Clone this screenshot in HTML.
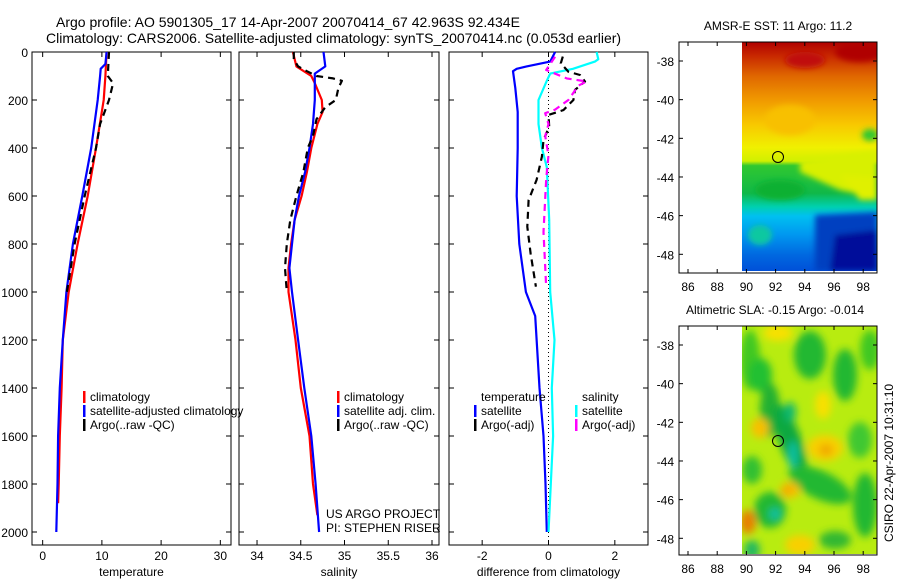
<!DOCTYPE html>
<html><head><meta charset="utf-8">
<style>
html,body{margin:0;padding:0;background:#fff;}
svg{display:block;font-family:"Liberation Sans",sans-serif;}
text{fill:#000;}
</style></head>
<body>
<svg id="fig" width="900" height="580" viewBox="0 0 900 580" xmlns="http://www.w3.org/2000/svg">
<defs>
<filter id="bl" x="-20%" y="-20%" width="140%" height="140%"><feGaussianBlur stdDeviation="4"/></filter>
<filter id="bl2" x="-20%" y="-20%" width="140%" height="140%"><feGaussianBlur stdDeviation="3"/></filter>
<clipPath id="c1"><rect x="742" y="42" width="135" height="229"/></clipPath>
<clipPath id="c2"><rect x="742" y="326" width="135" height="228"/></clipPath>
<linearGradient id="sstg" x1="0" y1="0" x2="0" y2="1">
<stop offset="0" stop-color="#b00000"/><stop offset="0.06" stop-color="#c82800"/>
<stop offset="0.15" stop-color="#e06800"/><stop offset="0.25" stop-color="#f09800"/>
<stop offset="0.36" stop-color="#f8c800"/><stop offset="0.46" stop-color="#f0f000"/>
<stop offset="0.52" stop-color="#d0f000"/><stop offset="0.54" stop-color="#30c830"/>
<stop offset="0.66" stop-color="#10b848"/><stop offset="0.72" stop-color="#00d0b0"/>
<stop offset="0.76" stop-color="#00c0f0"/><stop offset="0.84" stop-color="#0098f0"/>
<stop offset="0.93" stop-color="#0068e0"/><stop offset="1" stop-color="#0050d8"/>
</linearGradient>
</defs>
<g id="titles">
<text x="56" y="27" font-size="14">Argo profile: AO 5901305_17 14-Apr-2007 20070414_67 42.963S 92.434E</text>
<text x="46" y="43" font-size="14">Climatology: CARS2006. Satellite-adjusted climatology: synTS_20070414.nc (0.053d earlier)</text>
</g>
<g id="p1"></g>
<g id="p2"></g>
<g id="p3"></g>

<g>
<text x="778" y="30" font-size="12" text-anchor="middle">AMSR-E SST: 11 Argo: 11.2</text>
<g clip-path="url(#c1)">
<rect x="742" y="42" width="135" height="229" fill="url(#sstg)"/>
<g filter="url(#bl2)">
<polygon points="800,160 877,150 877,198 840,190 800,172" fill="#d8f000"/>
<polygon points="840,175 877,178 877,200 860,200" fill="#e0f000"/>
<ellipse cx="870" cy="135" rx="8" ry="6" fill="#30c830"/>
<polygon points="815,215 877,212 877,271 815,271" fill="#0040c0"/>
<polygon points="835,235 877,230 877,271 830,271" fill="#00109a"/>
<ellipse cx="760" cy="235" rx="12" ry="10" fill="#10c8a0"/>
<ellipse cx="805" cy="60" rx="20" ry="8" fill="#c01010"/>
<ellipse cx="860" cy="52" rx="25" ry="10" fill="#b00000"/>
<ellipse cx="790" cy="120" rx="25" ry="15" fill="#f8c000"/>
<ellipse cx="780" cy="190" rx="25" ry="10" fill="#10b030"/>
</g>
</g>
<rect x="679" y="42" width="198" height="231" fill="none" stroke="#000" stroke-width="1"/>
<g id="m1ticks"></g>
<circle cx="778" cy="157" r="5.5" fill="none" stroke="#000" stroke-width="1"/>
</g>

<g>
<text x="775" y="314" font-size="12" text-anchor="middle">Altimetric SLA: -0.15 Argo: -0.014</text>
<g clip-path="url(#c2)">
<rect x="742" y="326" width="135" height="228" fill="#b8ec10"/>
<g filter="url(#bl)">
<ellipse cx="750" cy="360" rx="10" ry="30" fill="#40c820"/>
<ellipse cx="810" cy="355" rx="16" ry="24" fill="#20b830"/>
<ellipse cx="845" cy="375" rx="12" ry="26" fill="#20b830"/>
<ellipse cx="870" cy="350" rx="10" ry="20" fill="#40c820"/>
<ellipse cx="760" cy="375" rx="12" ry="17" fill="#20c030"/>
<ellipse cx="770" cy="410" rx="10" ry="27" fill="#20b030"/>
<ellipse cx="790" cy="440" rx="11" ry="38" fill="#10a840" transform="rotate(-20 790 440)"/>
<ellipse cx="793" cy="455" rx="5" ry="14" fill="#10c0a0"/>
<ellipse cx="790" cy="412" rx="6" ry="10" fill="#10b870"/>
<ellipse cx="820" cy="485" rx="34" ry="14" fill="#20b830" transform="rotate(25 820 485)"/>
<ellipse cx="770" cy="510" rx="16" ry="18" fill="#20b830"/>
<ellipse cx="775" cy="514" rx="6" ry="6" fill="#10c0a0"/>
<ellipse cx="860" cy="440" rx="12" ry="18" fill="#40c830"/>
<ellipse cx="865" cy="505" rx="12" ry="32" fill="#20b830"/>
<ellipse cx="835" cy="540" rx="16" ry="9" fill="#30b830"/>
<ellipse cx="752" cy="550" rx="8" ry="10" fill="#20b860"/>
<ellipse cx="752" cy="470" rx="10" ry="14" fill="#30c030"/>
<ellipse cx="760" cy="428" rx="9" ry="10" fill="#f8c000"/>
<ellipse cx="825" cy="448" rx="18" ry="13" fill="#f8d000"/>
<ellipse cx="826" cy="450" rx="7" ry="6" fill="#f0a800"/>
<ellipse cx="790" cy="490" rx="10" ry="8" fill="#f8c000"/>
<ellipse cx="787" cy="490" rx="4" ry="4" fill="#f0a000"/>
<ellipse cx="748" cy="522" rx="8" ry="12" fill="#e88000"/>
<ellipse cx="800" cy="545" rx="15" ry="10" fill="#f8d000"/>
<ellipse cx="778" cy="333" rx="15" ry="8" fill="#f8e000"/>
<ellipse cx="823" cy="405" rx="8" ry="14" fill="#f8e000"/>
</g>
</g>
<rect x="679" y="326" width="198" height="229" fill="none" stroke="#000" stroke-width="1"/>
<g id="m2ticks"></g>
<circle cx="778" cy="441" r="5.5" fill="none" stroke="#000" stroke-width="1"/>
</g>
<text transform="translate(893,463) rotate(-90)" font-size="12" text-anchor="middle">CSIRO 22-Apr-2007 10:31:10</text>
</svg>
<script>
// ---- data ----
const depthTicks = [0,200,400,600,800,1000,1200,1400,1600,1800,2000];
const tempTicks = [0,10,20,30];
const salTicks = [34,34.5,35,35.5,36];
const salTickLabels = ["34","34.5","35","35.5","36"];
const diffTicks = [-2,0,2];
const lonTicks = [86,88,90,92,94,96,98];
const latTicks = [-38,-40,-42,-44,-46,-48];

const climTempDepth = [0,100,200,400,600,800,1000,1200,1400,1600,1800,1880];
const climTempVal   = [10.8,10.6,10.3,9.0,7.6,5.9,4.4,3.4,3.2,2.9,2.7,2.6];
const satTempDepth  = [0,50,70,100,200,400,600,800,1000,1200,1400,1600,1800,2000];
const satTempVal    = [10.8,10.6,9.8,9.7,9.3,8.2,6.7,5.1,4.0,3.4,2.9,2.6,2.5,2.3];
const argoTempDepth = [0,100,130,200,300,400,600,800,1000];
const argoTempVal   = [11.2,11.0,11.9,11.2,9.7,9.0,7.1,5.4,4.1];

const climSalDepth = [0,60,100,130,200,250,300,400,500,600,700,800,900,1000,1200,1400,1600,1800,1930];
const climSalVal   = [34.41,34.45,34.62,34.66,34.74,34.75,34.69,34.62,34.57,34.51,34.43,34.39,34.36,34.36,34.44,34.50,34.60,34.64,34.69];
const satSalDepth  = [0,60,90,200,300,400,500,600,700,800,900,1000,1200,1400,1600,1800,2000];
const satSalVal    = [34.76,34.78,34.66,34.66,34.64,34.60,34.55,34.48,34.43,34.40,34.37,34.40,34.47,34.54,34.62,34.67,34.71];
const argoSalDepth = [0,30,60,80,100,110,120,150,200,230,280,350,400,500,600,700,800,900,1000];
const argoSalVal   = [34.42,34.42,34.47,34.57,34.68,34.87,34.97,34.93,34.90,34.78,34.68,34.64,34.58,34.53,34.45,34.38,34.34,34.32,34.34];

const dSatTempDepth = [0,40,60,70,80,150,250,400,600,800,1000,1100,1400,1600,1800,2000];
const dSatTempVal   = [0.2,0.05,-0.66,-0.96,-1.07,-1.0,-0.93,-0.93,-0.96,-0.88,-0.68,-0.4,-0.27,-0.15,-0.09,-0.05];
const dSatSalDepth  = [0,30,40,70,90,120,200,300,400,480,700,1000,1200,1400,1600,1800,2000];
const dSatSalVal    = [1.45,1.5,1.4,0.74,0.05,-0.05,-0.3,-0.3,-0.2,-0.05,0.02,0.05,0.18,0.1,0.14,0.07,0.0];
const dArgoTempDepth = [19,47,82,96,123,158,200,242,262,311,367,436,533,617,728,839,978];
const dArgoTempVal   = [0.43,0.37,0.6,0.95,1.1,0.8,0.75,0.45,0.0,0.02,-0.15,-0.2,-0.36,-0.6,-0.64,-0.54,-0.38];
const dArgoSalDepth = [20,50,75,110,123,140,200,240,255,300,350,430,530,750,980];
const dArgoSalVal   = [0.2,0.05,-0.07,0.55,1.15,0.9,0.6,0.2,-0.1,0.0,-0.1,0.0,-0.07,-0.15,-0.07];

// ---- drawing ----
const NS="http://www.w3.org/2000/svg";
function mk(parent,tag,attrs){const e=document.createElementNS(NS,tag);for(const k in attrs)e.setAttribute(k,attrs[k]);parent.appendChild(e);return e;}
const TOP=52, BOT=545;
const yD = d => TOP + d*0.24;

function panel(g,left,right,xmin,xmax,xt,xtl,xlabel,showY){
  const xs = v => left + (v-xmin)/(xmax-xmin)*(right-left);
  const fr = mk(g,'rect',{x:left,y:TOP,width:right-left,height:BOT-TOP,fill:'none',stroke:'#000','stroke-width':1});
  
  
  depthTicks.forEach(d=>{
    const y=yD(d);
    mk(g,'line',{x1:left,x2:left+5,y1:y,y2:y,stroke:'#000'});
    mk(g,'line',{x1:right-5,x2:right,y1:y,y2:y,stroke:'#000'});
    if(showY){const t=mk(g,'text',{x:left-4,y:y+5,'font-size':12,'text-anchor':'end'});t.textContent=d;
      
      }
  });
  xt.forEach((v,i)=>{
    const x=xs(v);
    mk(g,'line',{x1:x,x2:x,y1:TOP,y2:TOP+5,stroke:'#000'});
    mk(g,'line',{x1:x,x2:x,y1:BOT-5,y2:BOT,stroke:'#000'});
    const t=mk(g,'text',{x:x,y:560,'font-size':12,'text-anchor':'middle'});t.textContent=xtl[i];
    
    
  });
  const xl=mk(g,'text',{x:(left+right)/2,y:576,'font-size':12,'text-anchor':'middle'});xl.textContent=xlabel;
  
  
  return xs;
}
function line(g,xs,dep,val,color,dash,name){
  const pts=dep.map((d,i)=>xs(val[i]).toFixed(1)+','+yD(d).toFixed(1)).join(' ');
  const a={points:pts,fill:'none',stroke:color,'stroke-width':2.2,'stroke-linejoin':'round'};
  if(dash)a['stroke-dasharray']=dash;
  const p=mk(g,'polyline',a);
  
  
}
function legend(g,x,y,color,label,name){
  mk(g,'rect',{x:x,y:y-10,width:2.5,height:12,fill:color});
  const t=mk(g,'text',{x:x+7,y:y,'font-size':12});t.textContent=label;
  
  
}

const p1=document.getElementById('p1');
const x1=panel(p1,32,231,-1.8,31.8,tempTicks,tempTicks.map(String),'temperature',true);
line(p1,x1,climTempDepth,climTempVal,'#ff0000',null,'temperature-climatology-line');
line(p1,x1,satTempDepth,satTempVal,'#0000ff',null,'temperature-satellite-line');
line(p1,x1,argoTempDepth,argoTempVal,'#000',"7,5",'temperature-argo-line');
legend(p1,83,401,'#ff0000','climatology','legend-entry-climatology');
legend(p1,83,415,'#0000ff','satellite-adjusted climatology','legend-entry-satellite');
legend(p1,83,429,'#000','Argo(..raw -QC)','legend-entry-argo');

const p2=document.getElementById('p2');
const x2=panel(p2,239,439,33.794,36.08,salTicks,salTickLabels,'salinity',false);
line(p2,x2,climSalDepth,climSalVal,'#ff0000',null,'salinity-climatology-line');
line(p2,x2,satSalDepth,satSalVal,'#0000ff',null,'salinity-satellite-line');
line(p2,x2,argoSalDepth,argoSalVal,'#000',"7,5",'salinity-argo-line');
legend(p2,337,401,'#ff0000','climatology','legend-entry-climatology');
legend(p2,337,415,'#0000ff','satellite adj. clim.','legend-entry-satellite');
legend(p2,337,429,'#000','Argo(..raw -QC)','legend-entry-argo');
const u1=mk(p2,'text',{x:326,y:518,'font-size':12});u1.textContent='US ARGO PROJECT';


const u2=mk(p2,'text',{x:326,y:532,'font-size':12});u2.textContent='PI: STEPHEN RISER';



const p3=document.getElementById('p3');
const x3=panel(p3,449,648,-3,3,diffTicks,diffTicks.map(String),'difference from climatology',false);
mk(p3,'line',{x1:x3(0),x2:x3(0),y1:TOP,y2:BOT,stroke:'#000','stroke-width':1,'stroke-dasharray':'1,3'});
line(p3,x3,dSatTempDepth,dSatTempVal,'#0000ff',null,'temp-diff-satellite-line');
line(p3,x3,dSatSalDepth,dSatSalVal,'#00ffff',null,'sal-diff-satellite-line');
line(p3,x3,dArgoTempDepth,dArgoTempVal,'#000',"7,5",'temp-diff-argo-line');
line(p3,x3,dArgoSalDepth,dArgoSalVal,'#ff00ff',"7,5",'sal-diff-argo-line');
const lt=mk(p3,'text',{x:481,y:401,'font-size':12});lt.textContent='temperature';


const ls=mk(p3,'text',{x:582,y:401,'font-size':12});ls.textContent='salinity';


legend(p3,474,415,'#0000ff','satellite','legend-entry-temp-satellite');
legend(p3,474,429,'#000','Argo(-adj)','legend-entry-temp-argo');
legend(p3,575,415,'#00ffff','satellite','legend-entry-sal-satellite');
legend(p3,575,429,'#ff00ff','Argo(-adj)','legend-entry-sal-argo');

// map axes
function mapAxes(g,top,bot,lat38y){
  const lx = lon => 688 + (lon-86)*14.6;
  const ly = lat => lat38y + (-38-lat)*19.33;
  lonTicks.forEach(l=>{
    const x=lx(l);
    mk(g,'line',{x1:x,x2:x,y1:top,y2:top+4,stroke:'#000'});
    mk(g,'line',{x1:x,x2:x,y1:bot-4,y2:bot,stroke:'#000'});
    const t=mk(g,'text',{x:x,y:bot+18,'font-size':12,'text-anchor':'middle'});t.textContent=l;
    
    
  });
  latTicks.forEach(l=>{
    const y=ly(l);
    mk(g,'line',{x1:679,x2:683,y1:y,y2:y,stroke:'#000'});
    mk(g,'line',{x1:873,x2:877,y1:y,y2:y,stroke:'#000'});
    const t=mk(g,'text',{x:674,y:y+5,'font-size':12,'text-anchor':'end'});t.textContent=l;
    
    
  });
}
mapAxes(document.getElementById('m1ticks'),42,273,61);
mapAxes(document.getElementById('m2ticks'),326,555,345);
</script>
</body></html>
